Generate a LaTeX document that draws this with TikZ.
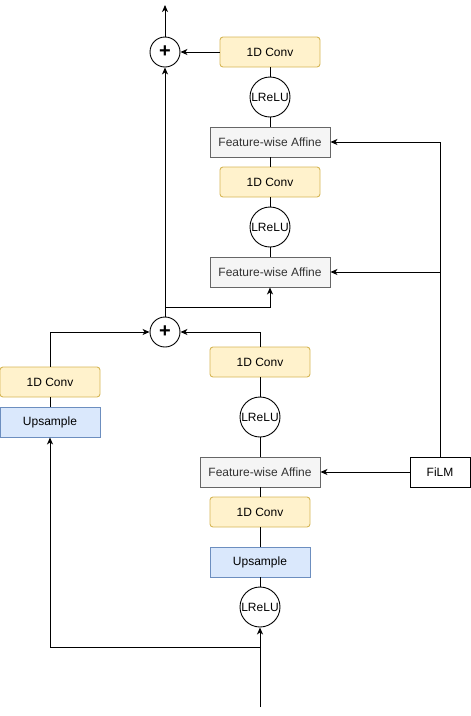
\documentclass[tikz,border=0pt]{standalone}
\usepackage{fontspec}
\setmainfont{Liberation Sans}
\usepackage{tikz}
\usetikzlibrary{arrows.meta,shapes}
\definecolor{convfill}{HTML}{FFF2CC}
\definecolor{convdraw}{HTML}{D6B656}
\definecolor{upfill}{HTML}{DAE8FC}
\definecolor{updraw}{HTML}{6C8EBF}
\definecolor{affinefill}{HTML}{F5F5F5}
\definecolor{affinedraw}{HTML}{666666}
\definecolor{affinetext}{HTML}{333333}
\tikzstyle{conv block}=[rectangle, rounded corners=3pt, draw=convdraw, fill=convfill, line width=0.9pt, inner sep=0pt, minimum width=100pt, minimum height=30pt]
\tikzstyle{upsample block}=[rectangle, draw=updraw, fill=upfill, line width=0.9pt, inner sep=0pt, minimum width=100pt, minimum height=30pt]
\tikzstyle{affine block}=[rectangle, draw=affinedraw, fill=affinefill, text=affinetext, line width=0.9pt, inner sep=0pt, minimum width=120pt, minimum height=30pt]
\tikzstyle{act vertex}=[circle, draw, fill=white, line width=0.9pt, inner sep=0pt, minimum size=40pt]
\tikzstyle{sum vertex}=[circle, draw, fill=white, line width=0.9pt, inner sep=0pt, minimum size=30pt, font=\fontsize{20}{20}\selectfont\bfseries]
\tikzstyle{film block}=[rectangle, draw, fill=white, line width=0.9pt, inner sep=0pt, minimum width=60pt, minimum height=30pt]
\tikzstyle{edge} = [draw,line width=1pt,-]
\tikzstyle{arrow edge} = [draw,line width=1pt,-{Stealth[length=7pt,width=6pt,inset=2pt]}]

\begin{document}
\begin{tikzpicture}[x=1pt, y=-1pt, node font=\fontsize{12}{14}\selectfont]
	\useasboundingbox (0,0) rectangle (471,716);
	% First we draw the blocks
	\foreach \pos/\label in {
		{(270,52)/convA},
		{(270,182)/convB},
		{(260,362)/convC},
		{(260,512)/convD},
		{(50,382)/convL}}
	\node[conv block] (\label) at \pos{1D Conv};
	
	\foreach \pos/\label in {{(260,562)/upD},{(50,422)/upL}}
	\node[upsample block] (\label) at \pos{Upsample};
	
	\foreach \pos/\label in {{(270,142)/fwaA},{(270,272)/fwaB},{(260,472)/fwaC}}
	\node[affine block] (\label) at \pos{Feature-wise Affine};
	
	\foreach \pos/\label in {{(270,97)/luA},{(270,227)/luB},{(260,417)/luC},{(260,607)/luD}}
	\node[act vertex] (\label) at \pos{LReLU};
	
	\foreach \pos/\label in {{(165,52)/addT},{(165,332)/addM}}
	\node[sum vertex] (\label) at \pos{+};
	
	\node[film block] (film) at (440,472) {FiLM};
	
	\coordinate (out) at (165,5);
	\coordinate (in) at (260,707);
	\coordinate (split) at (260,647);
	\coordinate (skip) at (165,307);
	
	% Connect blocks with edges
	\foreach \source/ \dest in {
		convA/luA,
		luA/fwaA,
		fwaA/convB,
		convB/luB,
		luB/fwaB,
		convC/luC,
		luC/fwaC,
		fwaC/convD,
		convD/upD,
		upD/luD,
		convL/upL}
	\path[edge] (\source) -- (\dest);
	
	% Arrows
	\path[arrow edge] (convA) -- (addT);
	\path[arrow edge] (addT) -- (out);
	\path[arrow edge] (addM) -- (addT);
	\path[arrow edge] (skip) -| (fwaB);
	\path[arrow edge] (convC.north) |- (addM.east);
	\path[arrow edge] (convL.north) |- (addM.west);
	\path[arrow edge] (film) -- (fwaC);
	\path[arrow edge] (film.north) |- (fwaA.east);
	\path[arrow edge] (film.north |- fwaB.east) -- (fwaB.east);
	\path[arrow edge] (in) -- (luD);
	\path[arrow edge] (split) -| (upL);

\end{tikzpicture}
\end{document}
